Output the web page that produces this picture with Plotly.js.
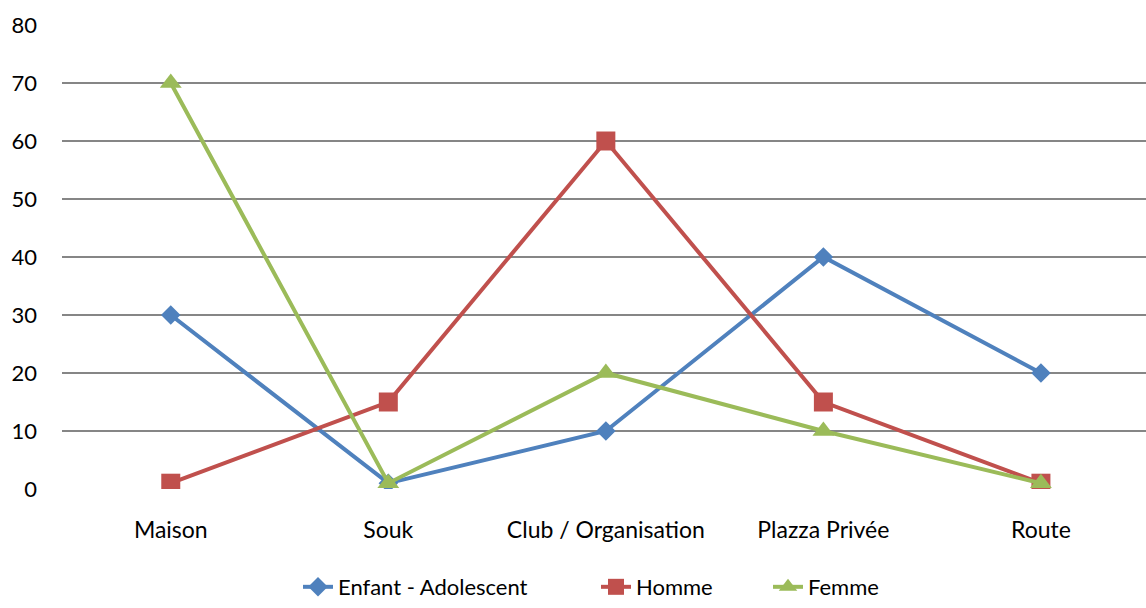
<!DOCTYPE html>
<html>
<head>
<meta charset="utf-8">
<script src="https://cdn.plot.ly/plotly-3.0.1.min.js"></script>
<style>html,body{margin:0;padding:0;background:#fff;}#chart{width:1146px;height:608px;}</style>
</head>
<body>
<div id="chart"></div>
<script>
const categories = ["Maison", "Souk", "Club / Organisation", "Plazza Privée", "Route"];
const enfant = [30, 1, 10, 40, 20];
const homme = [1, 15, 60, 15, 1];
const femme = [70, 1, 20, 10, 1];
const seriesNames = ["Enfant - Adolescent", "Homme", "Femme"];

const traces = [
  {x: categories, y: enfant, name: seriesNames[0], type: 'scatter', mode: 'lines+markers', legend: 'legend',
   line: {color: '#4F81BD', width: 4}, marker: {symbol: 'diamond', size: 15, color: '#4F81BD'}},
  {x: categories, y: homme, name: seriesNames[1], type: 'scatter', mode: 'lines+markers', legend: 'legend2',
   line: {color: '#C0504D', width: 4}, marker: {symbol: 'square', size: 19, color: '#C0504D'}},
  {x: categories, y: femme, name: seriesNames[2], type: 'scatter', mode: 'lines+markers', legend: 'legend3',
   line: {color: '#9BBB59', width: 4}, marker: {symbol: 'triangle-up', size: 19, color: '#9BBB59'}}
];

function leg(x) {
  return {orientation: 'h', x: x, xanchor: 'left', y: -0.2565, yanchor: 'bottom',
          font: {size: 22}, itemsizing: 'trace', bgcolor: 'rgba(0,0,0,0)', borderwidth: 0};
}

const layout = {
  width: 1146, height: 608,
  margin: {l: 62, r: 0, t: 25, b: 119, autoexpand: false},
  paper_bgcolor: '#fff', plot_bgcolor: '#fff',
  font: {family: 'Lato, "Open Sans", sans-serif', size: 22, color: '#000'},
  showlegend: true,
  legend: leg(0.2177),
  legend2: leg(0.4926),
  legend3: leg(0.6513),
  xaxis: {type: 'category', range: [-0.5, 4.483], showgrid: false, zeroline: false,
          showline: false, ticks: '', ticklabelstandoff: 25, fixedrange: true,
          tickfont: {size: 23}},
  yaxis: {range: [0, 80], dtick: 10, showgrid: true, gridcolor: '#868686', gridwidth: 1.5,
          zeroline: false, showline: false, ticks: '', ticklabelstandoff: 24, fixedrange: true},
  hovermode: false
};

Plotly.newPlot('chart', traces, layout, {displayModeBar: false, staticPlot: true});
</script>
</body>
</html>
